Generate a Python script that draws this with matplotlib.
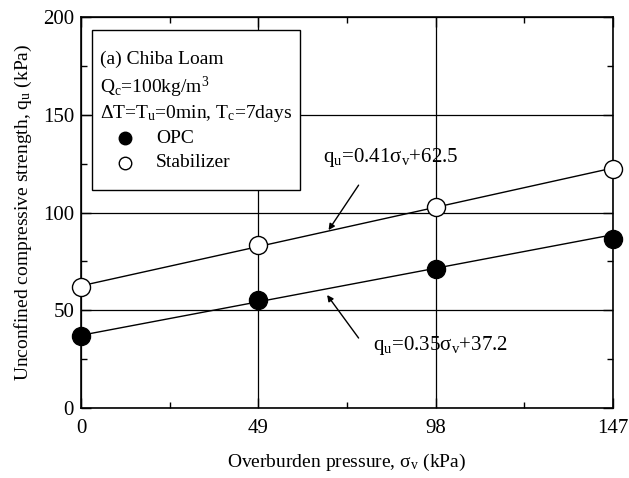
import matplotlib.pyplot as plt
from matplotlib.patches import Rectangle
import numpy as np

plt.rcParams["font.family"] = ["Liberation Serif", "DejaVu Serif"]
plt.rcParams["mathtext.fontset"] = "custom"
plt.rcParams["mathtext.rm"] = "Liberation Serif"
plt.rcParams["mathtext.it"] = "Liberation Serif:italic"

sigma_v = [0, 49, 98, 147]
q_opc = [37.0, 55.5, 71.0, 86.5]
q_stab = [62.0, 83.5, 103.0, 122.5]

fit_opc = (0.35, 37.2)
fit_stab = (0.41, 62.5)

x_ticks = [0, 49, 98, 147]
y_ticks = [0, 50, 100, 150, 200]

fig = plt.figure(figsize=(6.29, 4.78), dpi=100)
ax = fig.add_axes([0.1288, 0.1464, 0.8458, 0.818])

ax.set_xlim(0, 147)
ax.set_ylim(0, 200)
ax.set_xticks(x_ticks)
ax.set_yticks(y_ticks)
ax.set_xticks([24.5, 73.5, 122.5], minor=True)
ax.set_yticks([25, 75, 125, 175], minor=True)
ax.tick_params(which="both", direction="in", top=True, right=True, labelsize=15, colors="black")
ax.tick_params(which="major", length=7, width=1)
ax.tick_params(which="minor", length=4, width=1)
ax.tick_params(axis="x", pad=8)
ax.tick_params(axis="y", pad=5)
for s in ax.spines.values():
    s.set_linewidth(1.2)

ax.grid(True, which="major", color="black", linewidth=0.9)
ax.set_axisbelow(True)

xs = np.array([0, 147])
ax.plot(xs, fit_stab[0] * xs + fit_stab[1], color="black", lw=1.0, zorder=2)
ax.plot(xs, fit_opc[0] * xs + fit_opc[1], color="black", lw=1.0, zorder=2)

ax.plot(sigma_v, q_opc, "o", ms=13, mfc="black", mec="black", mew=1, clip_on=False, zorder=4)
ax.plot(sigma_v, q_stab, "o", ms=13, mfc="white", mec="black", mew=1, clip_on=False, zorder=4)

ax.set_xlabel(r"Overburden pressure, σ$_\mathrm{v}$ (kPa)", fontsize=14, labelpad=10)
ax.set_ylabel(r"Unconfined compressive strength, q$_\mathrm{u}$ (kPa)", fontsize=14, labelpad=6)

arrow = dict(arrowstyle="-|>", color="black", lw=1.0, mutation_scale=9, shrinkA=0, shrinkB=0)
ax.annotate("", xy=(68.4, 91.0), xytext=(76.7, 114), arrowprops=arrow, zorder=5)
ax.text(67, 125.8, r"q$_\mathrm{u}$=0.41σ$_\mathrm{v}$+62.5", fontsize=15, ha="left", va="baseline")
ax.annotate("", xy=(68.0, 57.8), xytext=(76.7, 35.8), arrowprops=arrow, zorder=5)
ax.text(80.6, 29.7, r"q$_\mathrm{u}$=0.35σ$_\mathrm{v}$+37.2", fontsize=15, ha="left", va="baseline")

# legend box
box = Rectangle((0.0207, 0.558), 0.391, 0.41, transform=ax.transAxes, facecolor="white",
                edgecolor="black", lw=1.0, zorder=6)
ax.add_patch(box)
lines = ["(a) Chiba Loam", r"Q$_\mathrm{c}$=100kg/m$^3$", r"ΔT=T$_\mathrm{u}$=0min, T$_\mathrm{c}$=7days"]
ys = [0.893, 0.821, 0.754]
for t, y in zip(lines, ys):
    ax.text(0.036, y, t, transform=ax.transAxes, fontsize=14, ha="left", va="center", zorder=7)

legend_labels = ["OPC", "Stabilizer"]
legend_faces = ["black", "white"]
legend_y = [0.69, 0.627]
for lab, fc, y in zip(legend_labels, legend_faces, legend_y):
    ax.plot([0.083], [y], "o", ms=9, mfc=fc, mec="black", mew=1, transform=ax.transAxes, zorder=7)
    ax.text(0.141, y, lab, transform=ax.transAxes, fontsize=14, ha="left", va="center", zorder=7)

fig.savefig("out.png", dpi=100)
